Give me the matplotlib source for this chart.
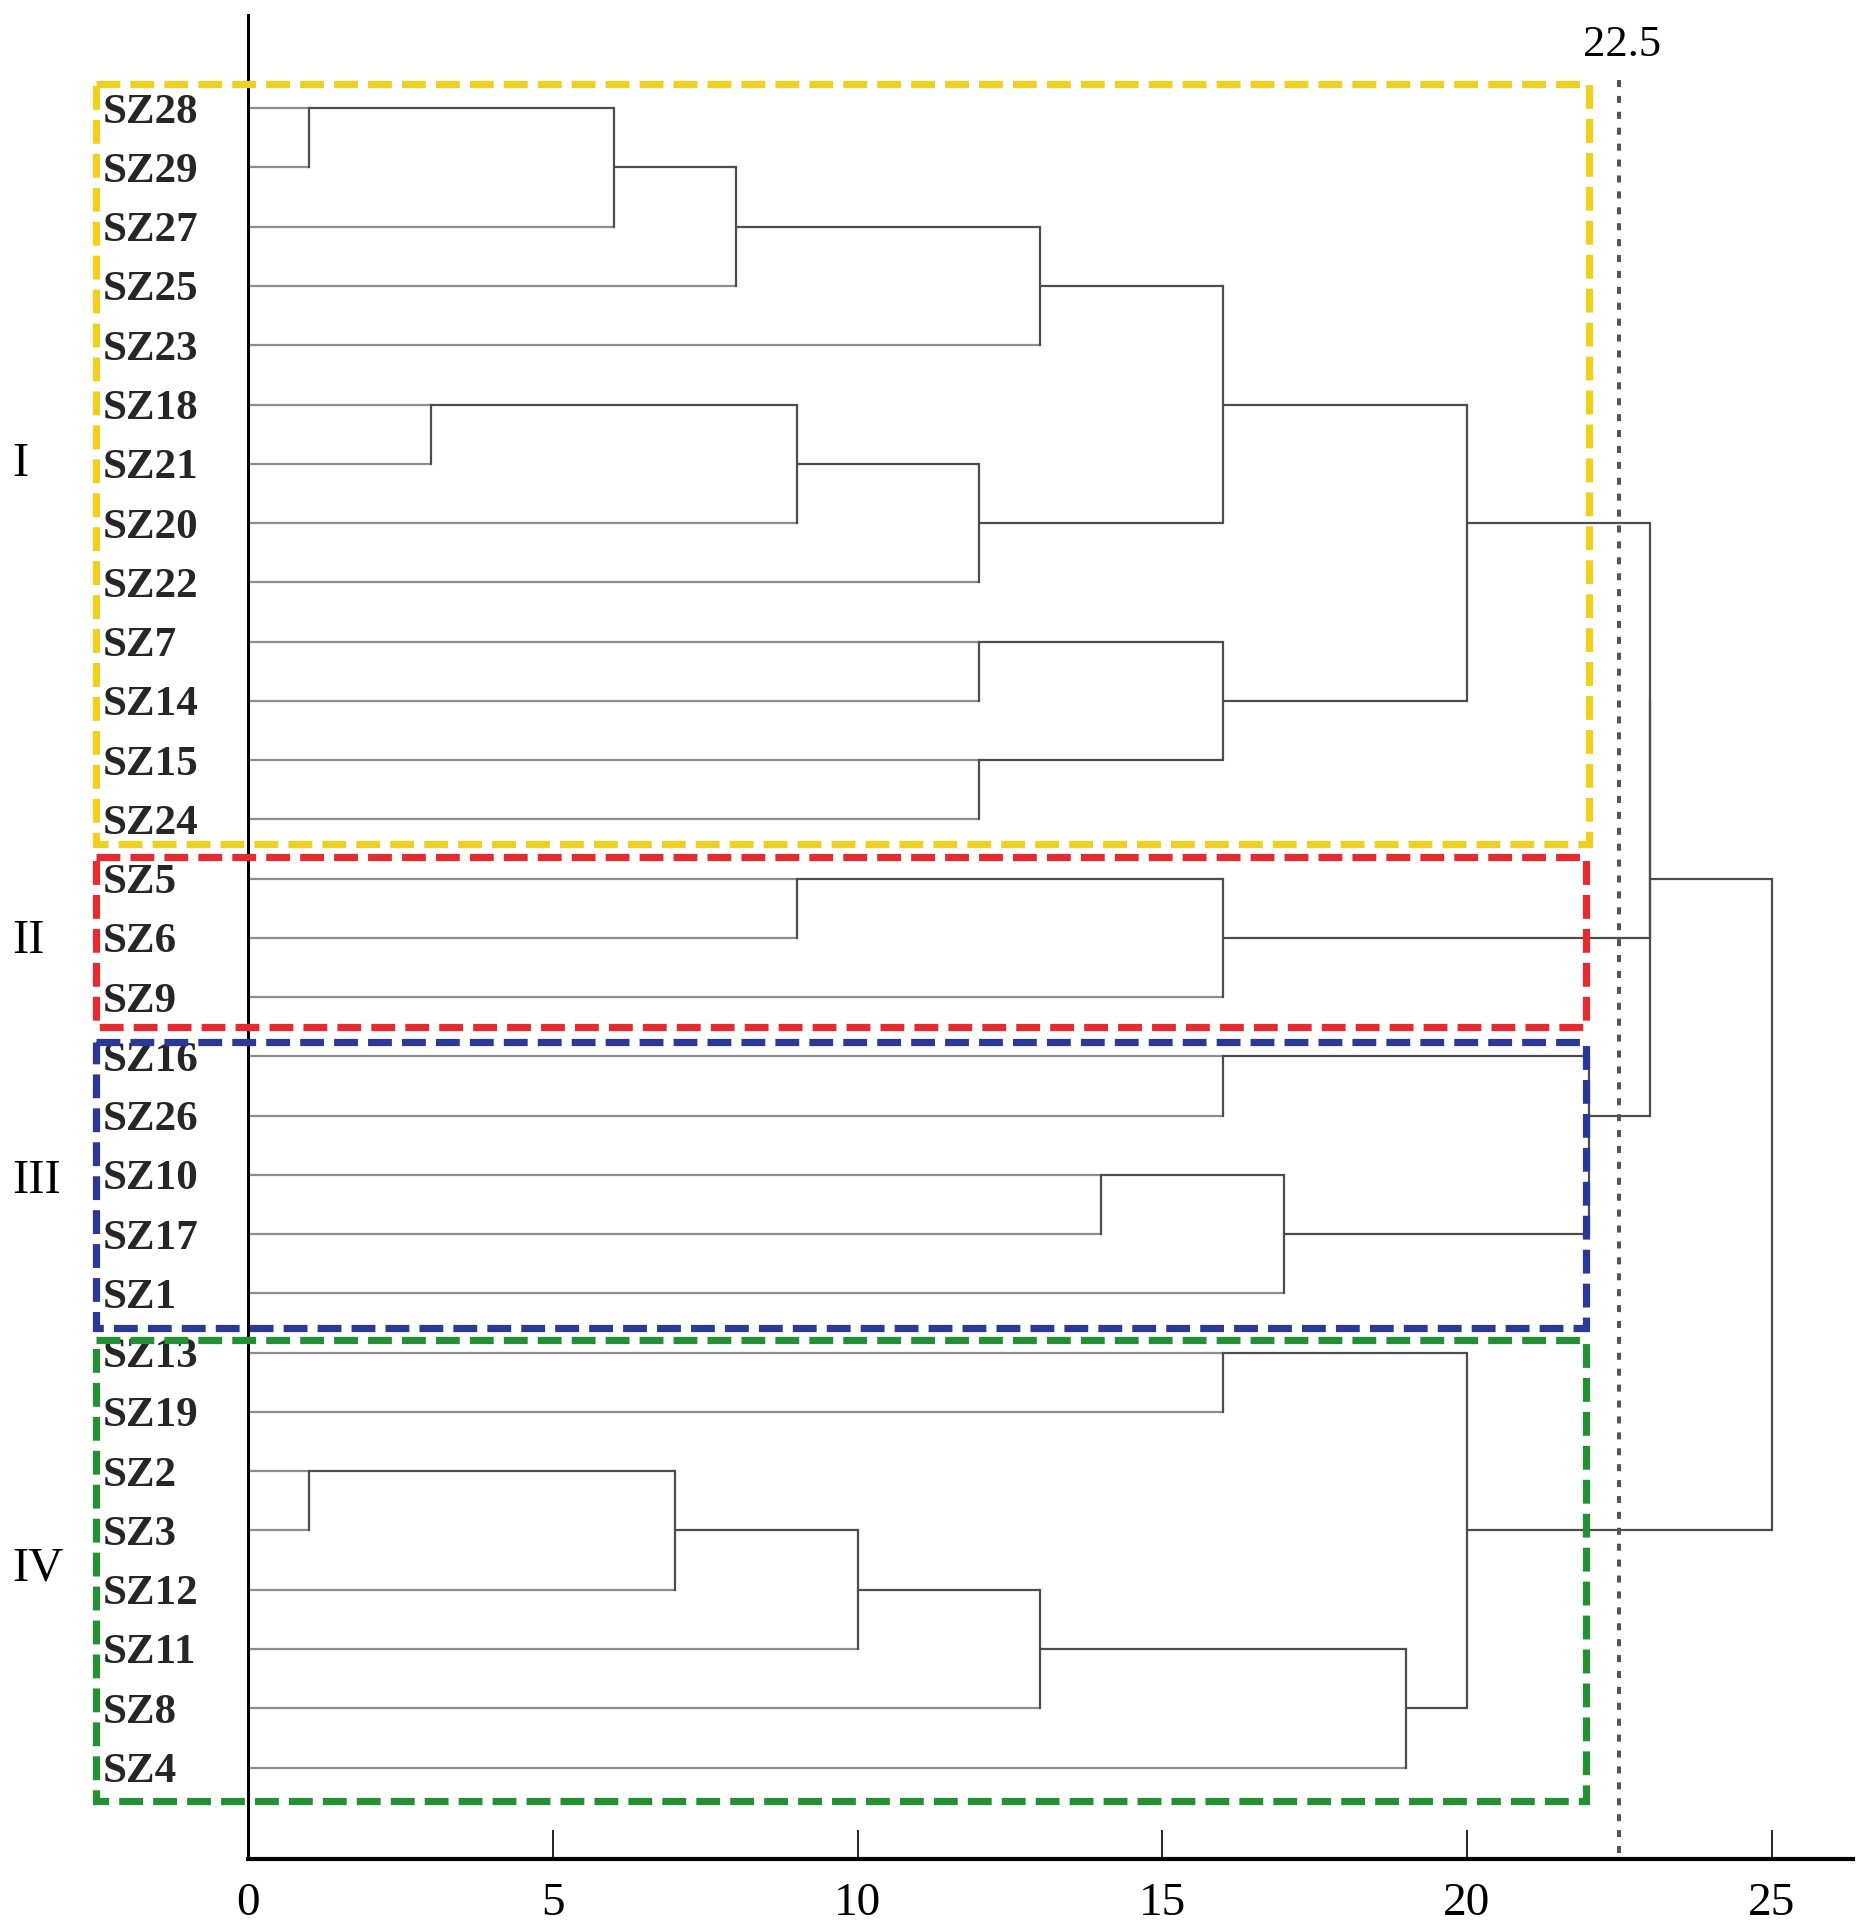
import matplotlib
matplotlib.use("Agg")
import matplotlib.pyplot as plt
from matplotlib.patches import Rectangle

plt.rcParams['font.family'] = ['Liberation Serif', 'DejaVu Serif']

# leaves, top to bottom
leaves = ["SZ28", "SZ29", "SZ27", "SZ25", "SZ23", "SZ18", "SZ21", "SZ20", "SZ22",
          "SZ7", "SZ14", "SZ15", "SZ24", "SZ5", "SZ6", "SZ9", "SZ16", "SZ26",
          "SZ10", "SZ17", "SZ1", "SZ13", "SZ19", "SZ2", "SZ3", "SZ12", "SZ11",
          "SZ8", "SZ4"]

# merges, scipy style: index < 29 is a leaf, otherwise 29 + merge number
merge_left = [0, 29, 30, 31, 5, 33, 34, 32, 9, 11, 37, 36, 13, 41, 16, 18, 44, 43,
              40, 47, 21, 23, 50, 51, 52, 53, 49, 48]
merge_right = [1, 2, 3, 4, 6, 7, 8, 35, 10, 12, 38, 39, 14, 15, 17, 19, 20, 45,
               42, 46, 22, 24, 25, 26, 27, 28, 54, 55]
merge_height = [1, 6, 8, 13, 3, 9, 12, 16, 12, 12, 16, 20, 9, 16, 16, 14, 17, 22,
                23, 23, 16, 1, 7, 10, 13, 19, 20, 25]

cut_height = 22.5

groups = ["I", "II", "III", "IV"]
group_label_y = [6, 14.05, 18.1, 24.65]
group_colors = ['#efd01c', '#e52b2f', '#2b3896', '#239133']
group_top = [-0.41, 12.63, 15.75, 20.79]
group_bottom = [12.41, 15.5, 20.58, 28.57]
group_right = [22.0, 21.95, 21.95, 21.95]

fig = plt.figure(figsize=(18.71, 19.28), dpi=100)
ax = fig.add_axes([0.1327, 0.0359, 0.9902 - 0.1327, 0.99235 - 0.0359])

n = len(leaves)
pos = {}
for i in range(n):
	pos[i] = (0.0, i)

leaf_col = '#8c8c8c'
node_col = '#4d4d4d'
for k in range(len(merge_left)):
	a = merge_left[k]
	b = merge_right[k]
	h = merge_height[k]
	xa, ya = pos[a]
	xb, yb = pos[b]
	ax.plot([xa, h], [ya, ya], color=leaf_col if a < n else node_col, lw=1.6, solid_capstyle='butt')
	ax.plot([xb, h], [yb, yb], color=leaf_col if b < n else node_col, lw=1.6, solid_capstyle='butt')
	ax.plot([h, h], [ya, yb], color=node_col, lw=1.6)
	pos[n + k] = (h, (ya + yb) // 2)

# cut line
ax.plot([cut_height, cut_height], [-0.48, 29.54], color='#555555', lw=2.9,
	linestyle=(0, (1.75, 2.2)))
ax.text(cut_height + 0.05, -1.06, "22.5", fontsize=32, ha='center', va='center')

# cluster boxes
for i in range(len(groups)):
	rect = Rectangle((-2.5, group_top[i]), group_right[i] + 2.5,
		group_bottom[i] - group_top[i], fill=False, edgecolor=group_colors[i],
		lw=5.2, linestyle=(0, (3.3, 1.4)), clip_on=False, zorder=5)
	ax.add_patch(rect)
	ax.text(-3.87, group_label_y[i], groups[i], fontsize=35, ha='left', va='center')

ax.set_xlim(0, 26.33)
ax.set_ylim(29.54, -1.577)

ax.set_yticks(range(n), leaves)
ax.tick_params(axis='y', length=0, pad=105, labelsize=31, labelcolor='#262626')
for lab in ax.get_yticklabels():
	lab.set_ha('left')
	lab.set_fontweight('bold')

ax.set_xticks([0, 5, 10, 15, 20, 25])
ax.tick_params(axis='x', direction='in', length=21, width=1.2, pad=17, labelsize=34)

ax.spines['top'].set_visible(False)
ax.spines['right'].set_visible(False)
ax.spines['left'].set_linewidth(2.2)
ax.spines['bottom'].set_linewidth(3)

fig.savefig("out.png", dpi=100)
